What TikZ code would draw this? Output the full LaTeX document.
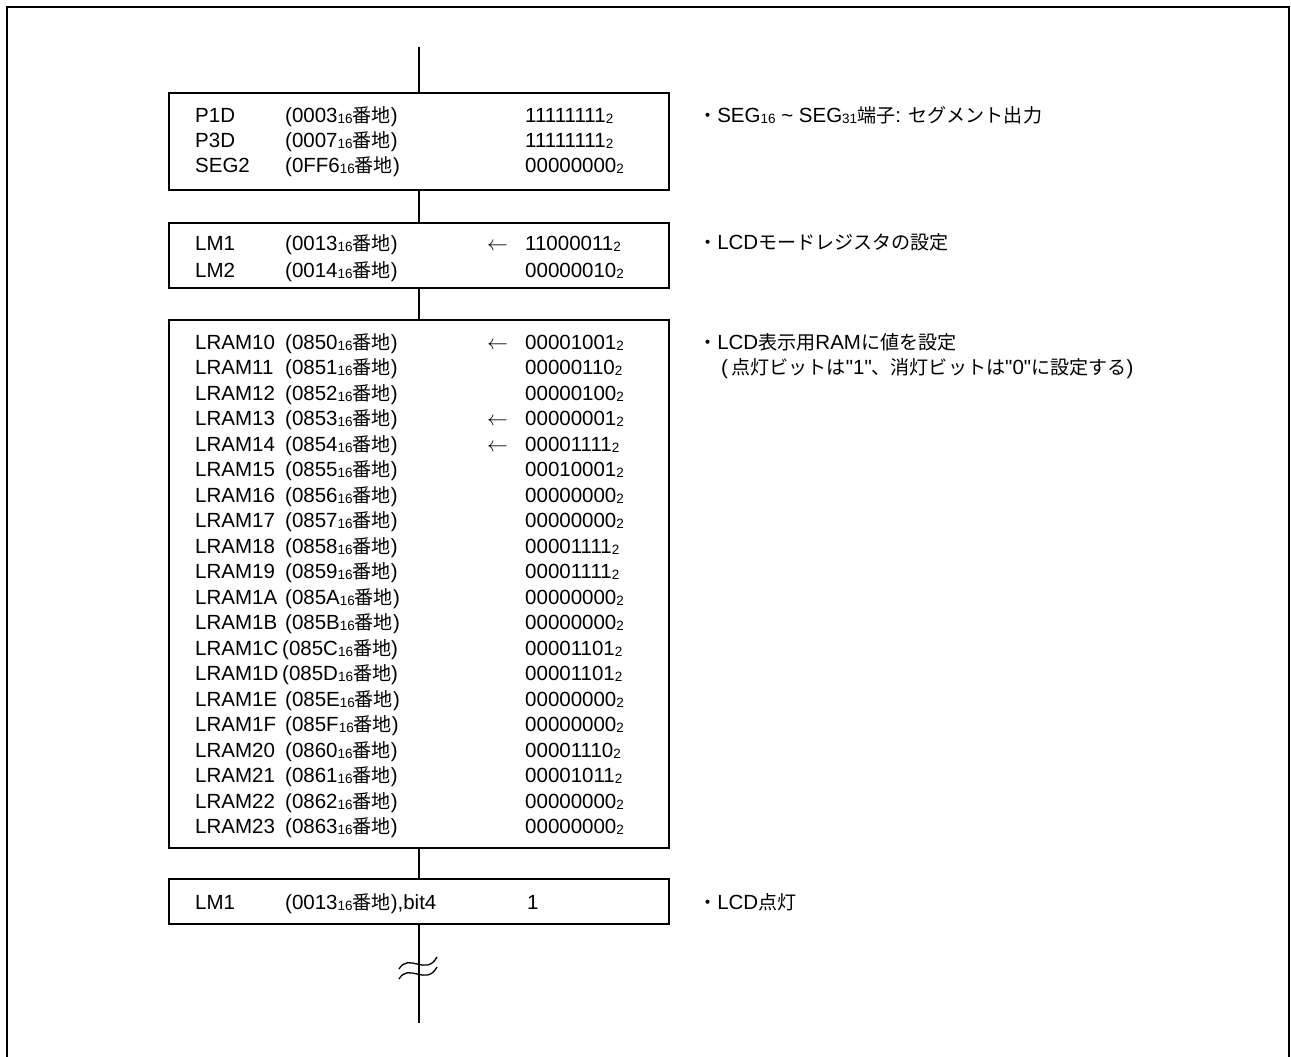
\documentclass[tikz,border=0pt]{standalone}
\usepackage{fontspec}
\setmainfont{Liberation Sans}[Ligatures=TeXOff]
\newfontfamily\jp{Noto Sans CJK JP}[Scale=0.93]
\newcommand\lsub[1]{{\fontsize{13.5}{13.5}\selectfont\raisebox{-1.2pt}{#1}}}
\begin{document}
\begin{tikzpicture}[x=1pt,y=-1pt,
  txt/.style={anchor=base west,inner sep=0pt,font=\fontsize{20.5}{24}\selectfont},
  box/.style={draw,line width=1.3pt,minimum width=500pt,inner sep=0pt},
  ln/.style={line width=1.3pt}]
\useasboundingbox (0,0) rectangle (1291,1057);
% outer frame
\draw[line width=2pt] (7,1060) -- (7,7) -- (1289,7) -- (1289,1060);

% boxes
\node[box,minimum height=97pt] (b1) at (419,141.5) {};
\node[box,minimum height=65pt] (b2) at (419,255.5) {};
\node[box,minimum height=528pt] (b3) at (419,584) {};
\node[box,minimum height=45pt] (b4) at (419,901.5) {};

% connectors
\coordinate (start) at (419,47);
\coordinate (finish) at (419,1023);
\draw[ln] (start) -- (b1);
\draw[ln] (b1) -- (b2);
\draw[ln] (b2) -- (b3);
\draw[ln] (b3) -- (b4);
\draw[ln] (b4) -- (finish);
% break mark
\draw[ln] (399,969) .. controls (409,952) and (426,977) .. (437,957);
\draw[ln] (399,979) .. controls (409,962) and (426,987) .. (437,967);

% box 1
\node[txt] (p1n) at (195,122) {P1D};
\node[txt] (p1a) at (285,122) {(0003\lsub{16}{\jp 番地})};
\node[txt] (p1v) at (525,122) {11111111\lsub{2}};
\node[txt] (p3n) at (195,147) {P3D};
\node[txt] (p3a) at (285,147) {(0007\lsub{16}{\jp 番地})};
\node[txt] (p3v) at (525,147) {11111111\lsub{2}};
\node[txt] (s2n) at (195,172) {SEG2};
\node[txt] (s2a) at (285,172) {(0FF6\lsub{16}{\jp 番地})};
\node[txt] (s2v) at (525,172) {00000000\lsub{2}};

% box 2
\node[txt] (m1n) at (195,250) {LM1};
\node[txt] (m1a) at (285,250) {(0013\lsub{16}{\jp 番地})};
\node[txt] (m1r) at (487,250) {$\leftarrow$};
\node[txt] (m1v) at (525,250) {11000011\lsub{2}};
\node[txt] (m2n) at (195,277) {LM2};
\node[txt] (m2a) at (285,277) {(0014\lsub{16}{\jp 番地})};
\node[txt] (m2v) at (525,277) {00000010\lsub{2}};

% box 3
\foreach \n/\a/\ar/\v/\ax [count=\i from 0] in {
  10/0850/1/00001001/285, 11/0851/0/00000110/285, 12/0852/0/00000100/285,
  13/0853/1/00000001/285, 14/0854/1/00001111/285, 15/0855/0/00010001/285,
  16/0856/0/00000000/285, 17/0857/0/00000000/285, 18/0858/0/00001111/285,
  19/0859/0/00001111/285, 1A/085A/0/00000000/285, 1B/085B/0/00000000/285,
  1C/085C/0/00001101/282, 1D/085D/0/00001101/282, 1E/085E/0/00000000/285,
  1F/085F/0/00000000/285, 20/0860/0/00001110/285, 21/0861/0/00001011/285,
  22/0862/0/00000000/285, 23/0863/0/00000000/285} {
  \node[txt] (rn\i) at (195,349+\i*25.5) {LRAM\n};
  \node[txt] (ra\i) at (\ax,349+\i*25.5) {(\a\lsub{16}{\jp 番地})};
  \ifnum\ar=1 \node[txt] (rr\i) at (487,349+\i*25.5) {$\leftarrow$};\fi
  \node[txt] (rv\i) at (525,349+\i*25.5) {\v\lsub{2}};
}

% box 4
\node[txt] (l4n) at (195,909) {LM1};
\node[txt] (l4a) at (285,909) {(0013\lsub{16}{\jp 番地}),bit4};
\node[txt] (l4v) at (527,909) {1};

% annotations
\node[txt] (a1) at (698,122) {{\jp ・}SEG\lsub{16} \textasciitilde{} SEG\lsub{31}{\jp 端子}: {\jp セグメント出力}};
\node[txt] (a2) at (698,249) {{\jp ・}LCD{\jp モードレジスタの設定}};
\node[txt] (a3) at (698,349) {{\jp ・}LCD{\jp 表示用}RAM{\jp に値を設定}};
\node[txt] (a4) at (721,374) {(\,{\jp 点灯ビットは}"1"{\jp 、消灯ビットは}"0"{\jp に設定する})};
\node[txt] (a5) at (698,909) {{\jp ・}LCD{\jp 点灯}};
\end{tikzpicture}
\end{document}
